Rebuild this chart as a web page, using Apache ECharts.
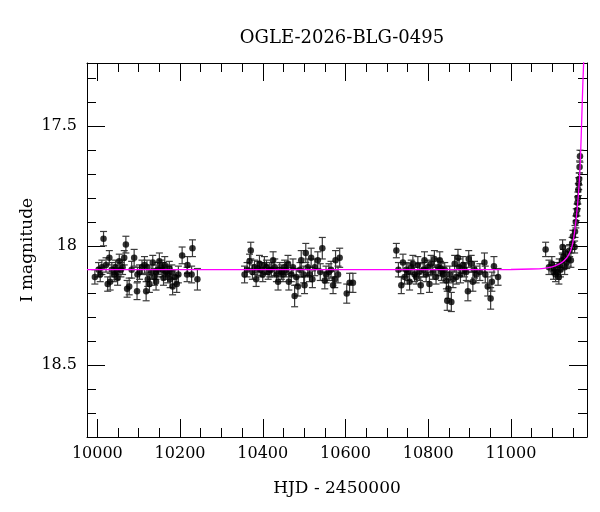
<!DOCTYPE html>
<html>
<head>
<meta charset="utf-8">
<script src="https://cdn.jsdelivr.net/npm/echarts@6/dist/echarts.min.js"></script>
<style>
  html, body { margin: 0; padding: 0; background: #fff; }
  #chart { width: 600px; height: 512px; }
</style>
</head>
<body>
<div id="chart"></div>
<script>
// photometry: HJD - 2450000, I magnitude, error
const hjd = [
  9994, 10007, 10015, 10021, 10025, 10029, 10031, 10041, 10047, 10049, 10053, 10057, 10061, 10065, 10069,
  10072, 10077, 10089, 10096, 10097, 10114, 10118, 10120, 10122, 10126, 10130, 10134, 10142, 10142, 10150,
  10154, 10160, 10166, 10170, 10174, 10176, 10182, 10188, 10192, 10205, 10217, 10218, 10228, 10230, 10242,
  10003, 10011, 10035, 10044, 10083, 10102, 10108, 10138, 10146, 10158, 10163, 10180, 10196,
  10356, 10368, 10371, 10380, 10384, 10388, 10392, 10400, 10409, 10417, 10425, 10433, 10437, 10441, 10449,
  10453, 10461, 10463, 10469, 10477, 10481, 10485, 10493, 10499, 10501, 10504, 10509, 10513, 10517, 10520,
  10533, 10544, 10550, 10553, 10560, 10570, 10574, 10576, 10582, 10586, 10603, 10610, 10618,
  10362, 10375, 10396, 10404, 10413, 10421, 10429, 10445, 10457, 10473, 10490, 10526, 10539, 10565,
  10723, 10735, 10739, 10743, 10747, 10755, 10763, 10767, 10771, 10775, 10782, 10788, 10791, 10795, 10803,
  10807, 10811, 10815, 10819, 10824, 10828, 10830, 10836, 10844, 10846, 10849, 10856, 10860, 10864, 10868,
  10872, 10878, 10884, 10888, 10896, 10898, 10904, 10908, 10916, 10936, 10938, 10944, 10951, 10954, 10959, 10969,
  10728, 10751, 10759, 10779, 10799, 10832, 10840, 10852, 10875, 10892, 10912, 10925,
  11084, 11092, 11099, 11103, 11105, 11108, 11113, 11116, 11117, 11120, 11124, 11125, 11127, 11130, 11132,
  11135, 11138, 11142, 11145, 11148, 11150, 11154, 11155, 11157, 11158, 11160, 11161, 11162, 11163, 11164,
  11165, 11166, 11167
];
const mag = [
  18.13, 18.12, 17.97, 18.08, 18.16, 18.05, 18.15, 18.12, 18.11, 18.135, 18.065, 18.10, 18.09, 18.05, 17.995,
  18.18, 18.17, 18.05, 18.19, 18.12, 18.08, 18.19, 18.09, 18.14, 18.16, 18.11, 18.07, 18.15, 18.11, 18.065,
  18.09, 18.135, 18.11, 18.12, 18.095, 18.14, 18.17, 18.13, 18.16, 18.04, 18.12, 18.08, 18.12, 18.01, 18.14,
  18.10, 18.09, 18.10, 18.09, 18.10, 18.11, 18.09, 18.13, 18.10, 18.10, 18.08, 18.11, 18.12,
  18.12, 18.065, 18.02, 18.09, 18.14, 18.095, 18.075, 18.12, 18.09, 18.10, 18.06, 18.12, 18.15, 18.10, 18.12,
  18.09, 18.075, 18.15, 18.12, 18.21, 18.13, 18.17, 18.06, 18.12, 18.165, 18.03, 18.09, 18.12, 18.05, 18.14,
  18.06, 18.01, 18.145, 18.12, 18.11, 18.165, 18.14, 18.06, 18.12, 18.05, 18.20, 18.155, 18.155,
  18.10, 18.11, 18.10, 18.08, 18.11, 18.10, 18.09, 18.11, 18.10, 18.09, 18.10, 18.09, 18.11, 18.10,
  18.02, 18.165, 18.07, 18.13, 18.10, 18.15, 18.075, 18.12, 18.13, 18.08, 18.165, 18.10, 18.06, 18.12, 18.16,
  18.075, 18.11, 18.055, 18.13, 18.09, 18.06, 18.095, 18.12, 18.145, 18.23, 18.18, 18.235, 18.14, 18.075, 18.13,
  18.05, 18.12, 18.08, 18.10, 18.19, 18.055, 18.075, 18.15, 18.12, 18.07, 18.12, 18.17, 18.22, 18.15, 18.085, 18.13,
  18.10, 18.11, 18.09, 18.11, 18.09, 18.11, 18.10, 18.12, 18.09, 18.11, 18.10, 18.11,
  18.015, 18.09, 18.075, 18.11, 18.095, 18.12, 18.11, 18.13, 18.08, 18.10, 18.06, 18.005, 18.045, 18.09, 18.03,
  18.07, 18.055, 18.02, 18.06, 17.99, 17.96, 18.005, 17.94, 17.90, 17.87, 17.85, 17.82, 17.80, 17.765, 17.74,
  17.72, 17.67, 17.625
];
const err = [
  0.03, 0.03, 0.03, 0.03, 0.03, 0.03, 0.035, 0.03, 0.03, 0.03, 0.03, 0.03, 0.03, 0.03, 0.035,
  0.035, 0.035, 0.035, 0.035, 0.03, 0.035, 0.04, 0.03, 0.03, 0.035, 0.03, 0.03, 0.035, 0.03, 0.035,
  0.03, 0.03, 0.03, 0.035, 0.03, 0.035, 0.035, 0.03, 0.035, 0.035, 0.03, 0.035, 0.035, 0.035, 0.045,
  0.03, 0.03, 0.03, 0.03, 0.035, 0.03, 0.03, 0.035, 0.03, 0.03, 0.035, 0.03, 0.035,
  0.035, 0.03, 0.035, 0.03, 0.03, 0.03, 0.035, 0.03, 0.03, 0.03, 0.035, 0.03, 0.035, 0.03, 0.03,
  0.03, 0.035, 0.035, 0.03, 0.045, 0.035, 0.04, 0.04, 0.035, 0.035, 0.04, 0.035, 0.03, 0.04, 0.035,
  0.035, 0.045, 0.035, 0.035, 0.035, 0.035, 0.035, 0.04, 0.035, 0.04, 0.04, 0.04, 0.04,
  0.03, 0.03, 0.03, 0.035, 0.03, 0.03, 0.035, 0.03, 0.03, 0.035, 0.03, 0.035, 0.035, 0.035,
  0.03, 0.035, 0.035, 0.03, 0.03, 0.035, 0.035, 0.03, 0.03, 0.035, 0.035, 0.03, 0.035, 0.03, 0.035,
  0.035, 0.03, 0.035, 0.03, 0.035, 0.035, 0.03, 0.035, 0.035, 0.04, 0.04, 0.04, 0.035, 0.035, 0.03,
  0.035, 0.035, 0.035, 0.03, 0.04, 0.035, 0.035, 0.04, 0.035, 0.04, 0.035, 0.04, 0.045, 0.04, 0.04, 0.035,
  0.03, 0.035, 0.03, 0.035, 0.03, 0.035, 0.03, 0.035, 0.035, 0.035, 0.035, 0.035,
  0.03, 0.03, 0.03, 0.03, 0.025, 0.03, 0.03, 0.03, 0.025, 0.03, 0.03, 0.03, 0.03, 0.03, 0.03,
  0.025, 0.03, 0.025, 0.03, 0.025, 0.025, 0.025, 0.025, 0.025, 0.025, 0.025, 0.025, 0.025, 0.025, 0.025,
  0.025, 0.025, 0.025
];
// microlensing model curve
const modelT = [9975, 10500, 10900, 11000, 11050, 11080, 11100, 11115, 11125, 11135, 11142, 11148, 11152,
  11156, 11160, 11163, 11166, 11168, 11170, 11172, 11174, 11176];
const modelMag = [18.100, 18.100, 18.100, 18.099, 18.097, 18.094, 18.088, 18.078, 18.068, 18.050, 18.030,
  18.000, 17.965, 17.915, 17.850, 17.790, 17.710, 17.640, 17.540, 17.430, 17.320, 17.230];

// tick positions
const xMajor = [10000, 10200, 10400, 10600, 10800, 11000];
const xMinor = [10050, 10100, 10150, 10250, 10300, 10350, 10450, 10500, 10550, 10650, 10700, 10750,
  10850, 10900, 10950, 11050, 11100, 11150];
const yMajor = [17.5, 18, 18.5];
const yMinor = [17.3, 17.4, 17.6, 17.7, 17.8, 17.9, 18.1, 18.2, 18.3, 18.4, 18.6, 18.7];

const chart = echarts.init(document.getElementById('chart'));
const FONT = 'DejaVu Serif';
const X_MIN = 9975, X_MAX = 11184;
const Y_MIN = 17.235, Y_MAX = 18.8;

const points = hjd.map((t, i) => [t, mag[i]]);
const bars = hjd.map((t, i) => [t, mag[i] - err[i], mag[i] + err[i]]);
const model = modelT.map((t, i) => [t, modelMag[i]]);

function xAx(pos, ticks, len, main) {
  return {
    type: 'value', position: pos, min: X_MIN, max: X_MAX,
    axisLine: { show: main, onZero: false, lineStyle: { color: '#000', width: 1 } },
    axisTick: { show: true, inside: true, length: len, customValues: ticks, lineStyle: { color: '#000', width: 1 } },
    axisLabel: pos === 'bottom' && main ? {
      customValues: ticks, formatter: v => String(v), color: '#000',
      fontFamily: FONT, fontSize: 16, margin: 9
    } : { show: false },
    splitLine: { show: false }
  };
}
function yAx(pos, ticks, len, main) {
  return {
    type: 'value', position: pos, min: Y_MIN, max: Y_MAX, inverse: true,
    axisLine: { show: main, onZero: false, lineStyle: { color: '#000', width: 1 } },
    axisTick: { show: true, inside: true, length: len, customValues: ticks, lineStyle: { color: '#000', width: 1 } },
    axisLabel: pos === 'left' && main ? {
      customValues: ticks, formatter: v => String(v), color: '#000',
      fontFamily: FONT, fontSize: 16, margin: 10
    } : { show: false },
    splitLine: { show: false }
  };
}

const xAxes = [xAx('bottom', xMajor, 18, true), xAx('top', xMajor, 18, true),
  xAx('bottom', xMinor, 9, false), xAx('top', xMinor, 9, false)];
xAxes[0].name = 'HJD - 2450000';
xAxes[0].nameLocation = 'middle';
xAxes[0].nameGap = 43;
xAxes[0].nameTextStyle = { fontFamily: FONT, fontSize: 17, color: '#000' };

const yAxes = [yAx('left', yMajor, 18, true), yAx('right', yMajor, 18, true),
  yAx('left', yMinor, 9, false), yAx('right', yMinor, 9, false)];
yAxes[0].name = 'I magnitude';
yAxes[0].nameLocation = 'middle';
yAxes[0].nameGap = 51;
yAxes[0].nameMoveOverlap = false;
yAxes[0].nameTextStyle = { fontFamily: FONT, fontSize: 17, color: '#000' };

chart.setOption({
  animation: false,
  backgroundColor: '#fff',
  title: {
    text: 'OGLE-2026-BLG-0495',
    left: 337, top: 24, textAlign: 'center',
    textStyle: { fontFamily: FONT, fontSize: 18, fontWeight: 'normal', color: '#000' }
  },
  grid: { left: 87, right: 13, top: 63, bottom: 75, containLabel: false },
  xAxis: xAxes,
  yAxis: yAxes,
  series: [
    {
      type: 'custom',
      xAxisIndex: 0, yAxisIndex: 0,
      clip: true,
      data: bars,
      z: 2,
      renderItem: function (params, api) {
        const top = api.coord([api.value(0), api.value(1)]);
        const bot = api.coord([api.value(0), api.value(2)]);
        const hw = 3.5;
        const style = { stroke: '#3a3a3a', lineWidth: 1.2 };
        return {
          type: 'group',
          children: [
            { type: 'line', shape: { x1: top[0], y1: top[1], x2: bot[0], y2: bot[1] }, style: style },
            { type: 'line', shape: { x1: top[0] - hw, y1: top[1], x2: top[0] + hw, y2: top[1] }, style: style },
            { type: 'line', shape: { x1: bot[0] - hw, y1: bot[1], x2: bot[0] + hw, y2: bot[1] }, style: style }
          ]
        };
      }
    },
    {
      type: 'scatter',
      xAxisIndex: 0, yAxisIndex: 0,
      data: points,
      symbol: 'circle',
      symbolSize: 6.5,
      itemStyle: { color: '#000' },
      z: 3
    },
    {
      type: 'line',
      xAxisIndex: 0, yAxisIndex: 0,
      data: model,
      showSymbol: false,
      smooth: 0.3,
      clip: true,
      lineStyle: { color: '#ff00ff', width: 1.3 },
      z: 4
    }
  ]
});
</script>
</body>
</html>
